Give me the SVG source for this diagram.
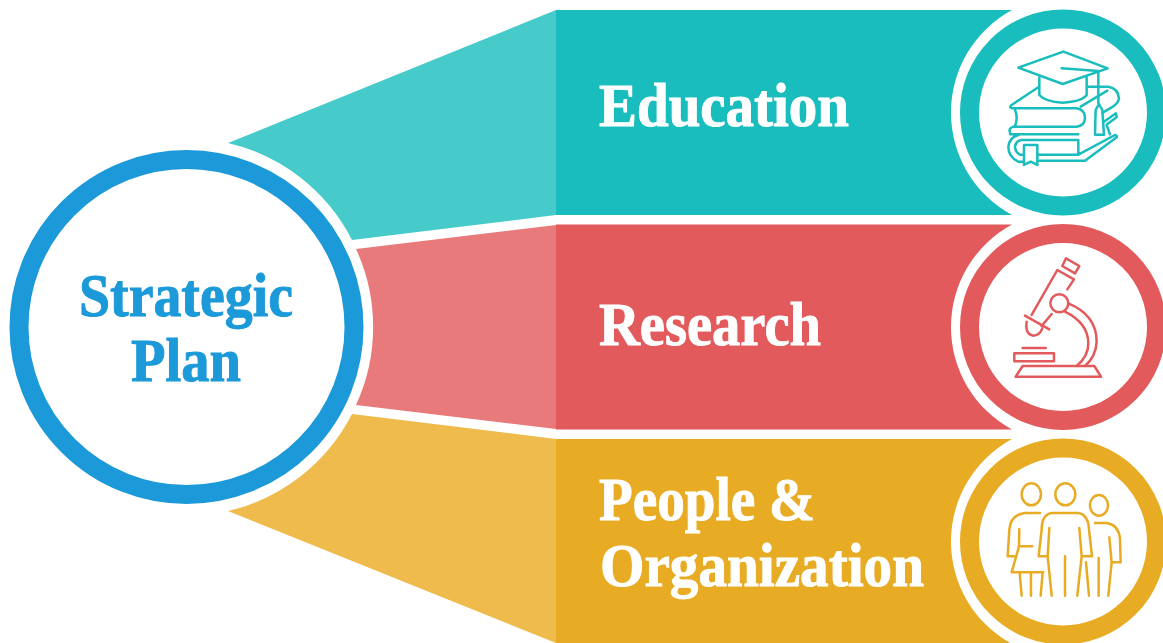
<svg xmlns="http://www.w3.org/2000/svg" width="1163" height="643" viewBox="0 0 1163 643">
<style>
.t{font-family:"Liberation Serif","Times New Roman",serif;font-weight:700;font-size:62px;stroke-width:1;paint-order:stroke}
.w{fill:#fff;stroke:#fff}
.b{fill:#1B99D8;stroke:#1B99D8}
.ic{fill:none;stroke-width:7.500;stroke-linejoin:round;stroke-linecap:round}
.ring{fill:#fff;stroke-width:19}
</style>
<rect width="1163" height="643" fill="#fff"/>
<g id="connectors">
<path fill="#47CACA" d="M228,143 L556,10 V215 L352,240 A187,187 0 0 0 228,143 Z"/>
<path fill="#E87A7B" d="M356,249 L556,225 V429 L356,405 A186,186 0 0 0 356,249 Z"/>
<path fill="#EEBB4C" d="M352,414 L556,439 V643 L228,511 A187,187 0 0 0 352,414 Z"/>
</g>
<g id="strategic-plan">
<circle cx="186.500" cy="327" r="167.500" fill="#fff" stroke="#1B99D8" stroke-width="19"/>
<text class="t b" x="79" y="316" textLength="214" lengthAdjust="spacingAndGlyphs">Strategic</text>
<text class="t b" x="131" y="381" textLength="110" lengthAdjust="spacingAndGlyphs">Plan</text>
</g>
<g id="education">
<path fill="#19BDBD" d="M556,10 H1012 A116.600,116.600 0 0 0 1012,215 H556 Z"/>
<text class="t w" x="599" y="126" textLength="250" lengthAdjust="spacingAndGlyphs">Education</text>
<circle class="ring" cx="1063" cy="112.500" r="93.500" stroke="#19BDBD"/>
<g class="ic" stroke="#19BDBD" transform="translate(950 0) scale(.3333)">
<path d="M205,203 L340,155 L473,205 L338,252 Z"/>
<path d="M335,205 L445,213 V310"/>
<path d="M268,232 V285 Q285,305 338,308 Q395,305 410,285 V232"/>
<path d="M447,312 L437,330 L435,404 H462 L457,330 Z"/>
<path d="M265,262 L185,315 Q175,325 190,325 H380 Q405,330 405,352 Q405,378 380,380 H190 Q175,385 180,397 M195,330 Q205,352 195,378"/>
<path d="M415,260 H475 Q505,265 507,295 Q505,312 480,325 L458,338 M392,320 L472,272"/>
<path d="M462,365 L498,340 L500,352 L472,372 M470,375 L480,403"/>
<path d="M180,403 H385 M500,412 L405,482 H265 M222,485 H205 Q175,470 175,440 Q178,412 205,405 M222,464 H210 Q195,455 195,440 Q198,422 215,420 H385 V464 H265 M385,464 L495,405 Q503,408 500,412"/>
<path d="M222,435 H262 V495 L242,485 L222,495 Z"/>
</g>
</g>
<g id="research">
<path fill="#E25A5C" d="M556,224.500 H1012 A116.600,116.600 0 0 0 1012,429.500 H556 Z"/>
<text class="t w" x="599" y="345" textLength="222" lengthAdjust="spacingAndGlyphs">Research</text>
<circle class="ring" cx="1063" cy="327" r="93.500" stroke="#E25A5C"/>
<g class="ic" stroke="#E25A5C" transform="translate(950 220) scale(.3333)">
<path d="M348,115 L388,138 L375,160 L337,138 Z"/>
<path d="M322,150 L372,178 L352,208 M322,150 L245,285 M305,282 L275,318"/>
<path d="M225,287 L298,328"/>
<path d="M230,305 Q225,345 250,347 Q270,345 277,325"/>
<circle cx="328" cy="250" r="27"/>
<path d="M355,250 Q440,285 440,365 Q438,410 405,438 M345,275 Q415,310 415,370 Q415,410 380,438"/>
<rect x="193" y="400" width="119" height="24"/>
<path d="M218,384 H287"/>
<path d="M197,470 L218,438 H433 L453,470 Z"/>
</g>
</g>
<g id="people-organization">
<path fill="#E8AC24" d="M556,439 H1012 A116.600,116.600 0 0 0 1012,644 L1018,643 H556 Z"/>
<text class="t w" x="599" y="520" textLength="216" lengthAdjust="spacingAndGlyphs">People &amp;</text>
<text class="t w" x="600" y="586" textLength="324" lengthAdjust="spacingAndGlyphs">Organization</text>
<circle class="ring" cx="1063" cy="541.500" r="93.500" stroke="#E8AC24"/>
<g class="ic" stroke="#E8AC24" transform="translate(950 433) scale(.3333)">
<ellipse cx="244" cy="184" rx="29" ry="33"/>
<ellipse cx="346" cy="184" rx="30" ry="33"/>
<ellipse cx="447" cy="217" rx="27" ry="31"/>
<path d="M270,240 H225 Q182,245 178,290 L173,370 H192 M208,288 L207,340 L185,418 H280 M207,340 H247 M209,420 L215,488 M243,420 V488 M278,418 L272,488"/>
<path d="M305,240 H385 Q415,245 417,290 L426,370 H400 M305,240 Q275,245 275,290 L266,370 H293 M298,285 L293,370 L305,488 M388,285 L395,370 L382,488 M345,370 V488"/>
<path d="M435,270 H470 Q505,275 510,315 L512,388 H490 M478,313 L485,388 L475,488 M446,375 V488 M408,388 L417,488"/>
</g>
</g>
</svg>
